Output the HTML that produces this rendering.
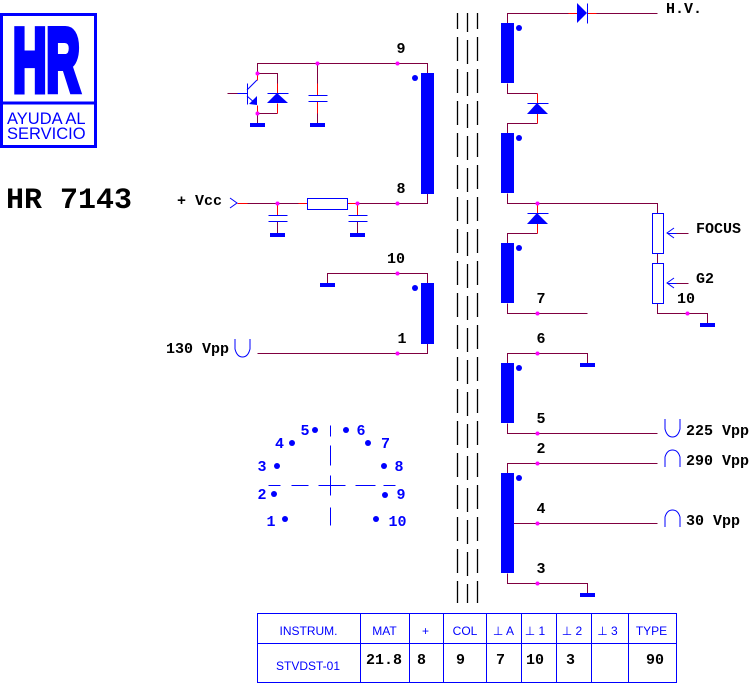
<!DOCTYPE html>
<html><head><meta charset="utf-8"><style>
html,body{margin:0;padding:0;background:#fff;}
svg{display:block;}
.m{font-family:"Liberation Mono",monospace;font-weight:bold;font-size:15px;fill:#000;}
.b{font-family:"Liberation Mono",monospace;font-weight:bold;font-size:15px;fill:#0000ff;}
.s{font-family:"Liberation Sans",Arial,sans-serif;font-size:12px;fill:#0000ff;}
</style></head><body>
<svg width="752" height="684" viewBox="0 0 752 684" xmlns="http://www.w3.org/2000/svg">
<rect width="752" height="684" fill="#fff"/>
<!-- Logo -->
<rect x="1.5" y="14.5" width="94" height="132" fill="none" stroke="#0000ff" stroke-width="3"/>
<line x1="0" y1="103" x2="97" y2="103" stroke="#0000ff" stroke-width="3"/>
<text transform="translate(13,91) scale(0.52,1)" x="0" y="0" font-family="Liberation Sans, Arial, sans-serif" font-weight="bold" font-size="89" fill="#0000ff" stroke="#0000ff" stroke-width="7">HR</text>
<text x="7" y="124" font-family="Liberation Sans, Arial, sans-serif" font-size="16.5" fill="#0000ff">AYUDA AL</text>
<text x="7" y="139" font-family="Liberation Sans, Arial, sans-serif" font-size="16.5" fill="#0000ff">SERVICIO</text>
<text x="6" y="208" font-family="Liberation Mono, monospace" font-weight="bold" font-size="30" fill="#000">HR 7143</text>

<!-- core lines -->
<g stroke="#000" stroke-width="1.3">
<line x1="457.5" y1="13" x2="457.5" y2="603" stroke-dasharray="24 8" stroke-dashoffset="8"/>
<line x1="467.5" y1="13" x2="467.5" y2="603" stroke-dasharray="24 8" stroke-dashoffset="5"/>
<line x1="477.5" y1="13" x2="477.5" y2="603" stroke-dasharray="24 8" stroke-dashoffset="8"/>
</g>

<g shape-rendering="crispEdges" transform="translate(0.5,0.5)">
<!-- maroon wires -->
<g stroke="#800040" stroke-width="1" fill="none">
<polyline points="257,73 257,63 427,63 427,74"/>
<polyline points="257,73 277,73 277,83"/>
<polyline points="257,113 277,113"/>
<line x1="257" y1="113" x2="257" y2="123"/>
<line x1="317" y1="63" x2="317" y2="83"/>
<line x1="317" y1="113" x2="317" y2="123"/>
<line x1="227" y1="93" x2="237" y2="93"/>
<line x1="247" y1="203" x2="298" y2="203"/>
<polyline points="357,203 427,203 427,193"/>
<line x1="277" y1="221" x2="277" y2="233"/>
<line x1="357" y1="221" x2="357" y2="233"/>
<polyline points="327,283 327,273 427,273 427,284"/>
<polyline points="257,353 427,353 427,343"/>
<polyline points="507,23 507,13 568,13"/>
<line x1="596" y1="13" x2="657" y2="13"/>
<polyline points="507,83 507,93 537,93"/>
<polyline points="537,123 507,123 507,133"/>
<polyline points="507,193 507,203 657,203 657,213"/>
<polyline points="537,233 507,233 507,243"/>
<polyline points="507,303 507,313 587,313"/>
<line x1="657" y1="253" x2="657" y2="263"/>
<polyline points="657,303 657,313 707,313 707,323"/>
<line x1="675" y1="233" x2="688" y2="233"/>
<line x1="675" y1="283" x2="688" y2="283"/>
<polyline points="507,363 507,353 587,353 587,363"/>
<polyline points="507,423 507,433 657,433"/>
<polyline points="507,473 507,463 657,463"/>
<line x1="507" y1="523" x2="657" y2="523"/>
<polyline points="507,573 507,583 587,583 587,593"/>
</g>
<!-- red segments -->
<g stroke="#ff0000" stroke-width="1">
<line x1="257" y1="73" x2="257" y2="80"/>
<line x1="257" y1="105" x2="257" y2="113"/>
<line x1="277" y1="83" x2="277" y2="93"/>
<line x1="277" y1="103" x2="277" y2="113"/>
<line x1="317" y1="83" x2="317" y2="95"/>
<line x1="317" y1="101" x2="317" y2="113"/>
<line x1="237" y1="203" x2="247" y2="203"/>
<line x1="298" y1="203" x2="307" y2="203"/>
<line x1="347" y1="203" x2="357" y2="203"/>
<line x1="277" y1="203" x2="277" y2="215"/>
<line x1="357" y1="203" x2="357" y2="215"/>
<line x1="568" y1="13" x2="577" y2="13"/>
<line x1="587" y1="13" x2="596" y2="13"/>
<line x1="537" y1="93" x2="537" y2="103"/>
<line x1="537" y1="113" x2="537" y2="123"/>
<line x1="537" y1="203" x2="537" y2="213"/>
<line x1="537" y1="223" x2="537" y2="233"/>
</g>
<!-- blue thin parts -->
<g stroke="#0000ff" stroke-width="1" fill="none">
<line x1="237" y1="93" x2="247" y2="93"/>
<line x1="247" y1="83" x2="247" y2="104"/>
<line x1="267" y1="93" x2="288" y2="93"/>
<line x1="308" y1="95" x2="327" y2="95"/>
<line x1="308" y1="101" x2="327" y2="101"/>
<line x1="268" y1="215" x2="287" y2="215"/>
<line x1="268" y1="221" x2="287" y2="221"/>
<line x1="348" y1="215" x2="367" y2="215"/>
<line x1="348" y1="221" x2="367" y2="221"/>
<rect x="307" y="198" width="40" height="11"/>
<line x1="587" y1="3" x2="587" y2="23"/>
<line x1="527" y1="103" x2="548" y2="103"/>
<line x1="527" y1="213" x2="548" y2="213"/>
<rect x="652" y="213" width="11" height="40"/>
<rect x="652" y="263" width="11" height="40"/>
<line x1="667" y1="233" x2="676" y2="233"/>
<line x1="667" y1="283" x2="676" y2="283"/>
<line x1="330" y1="425" x2="330" y2="436"/>
<line x1="330" y1="445" x2="330" y2="465"/>
<line x1="330" y1="475" x2="330" y2="495"/>
<line x1="330" y1="507" x2="330" y2="525"/>
<line x1="268" y1="485" x2="280" y2="485"/>
<line x1="291" y1="485" x2="308" y2="485"/>
<line x1="318" y1="485" x2="345" y2="485"/>
<line x1="355" y1="485" x2="375" y2="485"/>
<line x1="383" y1="485" x2="395" y2="485"/>
</g>
</g>
<!-- blue non-crisp -->
<g stroke="#0000ff" stroke-width="1" fill="none">
<line x1="247" y1="90" x2="257" y2="80"/>
<line x1="247" y1="96" x2="256" y2="104"/>
<polyline points="230,198 237,203 230,208"/>
<polyline points="674,228 667,233 674,238"/>
<polyline points="674,278 667,283 674,288"/>
<path d="M235,339 L235,349 Q237,357 242.5,357 Q248,357 250,349 L250,339"/>
<path d="M665,419 L665,429 Q667,437 672.5,437 Q678,437 680,429 L680,419"/>
<path d="M665,467 L665,457 Q667,450 672.5,450 Q678,450 680,457 L680,467"/>
<path d="M665,527 L665,517 Q667,510 672.5,510 Q678,510 680,517 L680,527"/>
</g>
<!-- filled blue -->
<g fill="#0000ff">
<polygon points="257,96 257,105 249,104"/>
<polygon points="277,93 267,103 288,103"/>
<polygon points="577,3 577,23 587,13"/>
<polygon points="537,103 527,114 548,114"/>
<polygon points="537,213 527,224 548,224"/>
<rect x="421" y="73" width="13" height="121"/>
<rect x="421" y="283" width="13" height="61"/>
<rect x="501" y="23" width="13" height="60"/>
<rect x="501" y="133" width="13" height="60"/>
<rect x="501" y="243" width="13" height="60"/>
<rect x="501" y="363" width="13" height="60"/>
<rect x="501" y="473" width="13" height="100"/>
<circle cx="415" cy="78" r="3"/>
<circle cx="415" cy="288" r="3"/>
<circle cx="519" cy="28" r="3"/>
<circle cx="519" cy="138" r="3"/>
<circle cx="519" cy="248" r="3"/>
<circle cx="519" cy="368" r="3"/>
<circle cx="519" cy="478" r="3"/>
<rect x="250" y="123" width="15" height="4"/>
<rect x="310" y="123" width="15" height="4"/>
<rect x="270" y="233" width="15" height="4"/>
<rect x="350" y="233" width="15" height="4"/>
<rect x="320" y="283" width="15" height="4"/>
<rect x="700" y="323" width="15" height="4"/>
<rect x="580" y="363" width="15" height="4"/>
<rect x="580" y="593" width="15" height="4"/>
<circle cx="315" cy="430" r="3"/>
<circle cx="346" cy="430" r="3"/>
<circle cx="292" cy="443" r="3"/>
<circle cx="368" cy="443" r="3"/>
<circle cx="277" cy="466" r="3"/>
<circle cx="384" cy="466" r="3"/>
<circle cx="274" cy="494" r="3"/>
<circle cx="385" cy="495" r="3"/>
<circle cx="285" cy="519" r="3"/>
<circle cx="376" cy="519" r="3"/>
</g>
<!-- magenta junction dots -->
<g fill="#ff00ff">
<circle cx="257.5" cy="73.5" r="2"/>
<circle cx="257.5" cy="113.5" r="2"/>
<circle cx="317.5" cy="63.5" r="2"/>
<circle cx="397.5" cy="63.5" r="2"/>
<circle cx="277.5" cy="203.5" r="2"/>
<circle cx="357.5" cy="203.5" r="2"/>
<circle cx="397.5" cy="203.5" r="2"/>
<circle cx="397.5" cy="273.5" r="2"/>
<circle cx="397.5" cy="353.5" r="2"/>
<circle cx="537.5" cy="203.5" r="2"/>
<circle cx="537.5" cy="313.5" r="2"/>
<circle cx="687.5" cy="313.5" r="2"/>
<circle cx="537.5" cy="353.5" r="2"/>
<circle cx="537.5" cy="433.5" r="2"/>
<circle cx="537.5" cy="463.5" r="2"/>
<circle cx="537.5" cy="523.5" r="2"/>
<circle cx="537.5" cy="583.5" r="2"/>
</g>

<!-- labels -->
<text class="m" x="401" y="53" text-anchor="middle">9</text>
<text class="m" x="401" y="193" text-anchor="middle">8</text>
<text class="m" x="396" y="263" text-anchor="middle">10</text>
<text class="m" x="402" y="343" text-anchor="middle">1</text>
<text class="m" x="177" y="205">+ Vcc</text>
<text class="m" x="166" y="353">130 Vpp</text>
<text class="m" x="666" y="13">H.V.</text>
<text class="m" x="541" y="303" text-anchor="middle">7</text>
<text class="m" x="696" y="233">FOCUS</text>
<text class="m" x="696" y="283">G2</text>
<text class="m" x="686" y="303" text-anchor="middle">10</text>
<text class="m" x="541" y="343" text-anchor="middle">6</text>
<text class="m" x="541" y="423" text-anchor="middle">5</text>
<text class="m" x="541" y="453" text-anchor="middle">2</text>
<text class="m" x="541" y="513" text-anchor="middle">4</text>
<text class="m" x="541" y="573" text-anchor="middle">3</text>
<text class="m" x="686" y="435">225 Vpp</text>
<text class="m" x="686" y="465">290 Vpp</text>
<text class="m" x="686" y="525">30 Vpp</text>

<!-- pinout labels -->
<text class="b" x="305" y="435" text-anchor="middle">5</text>
<text class="b" x="361" y="435" text-anchor="middle">6</text>
<text class="b" x="279.5" y="448" text-anchor="middle">4</text>
<text class="b" x="385.5" y="448" text-anchor="middle">7</text>
<text class="b" x="262" y="471" text-anchor="middle">3</text>
<text class="b" x="399" y="471" text-anchor="middle">8</text>
<text class="b" x="262" y="499" text-anchor="middle">2</text>
<text class="b" x="401" y="499" text-anchor="middle">9</text>
<text class="b" x="271" y="526" text-anchor="middle">1</text>
<text class="b" x="397.5" y="526" text-anchor="middle">10</text>

<!-- table -->
<g stroke="#0000ff" stroke-width="1" fill="none" shape-rendering="crispEdges">
<rect x="257.5" y="613.5" width="419" height="69"/>
<line x1="257" y1="643.5" x2="676" y2="643.5"/>
<line x1="360.5" y1="613" x2="360.5" y2="683"/>
<line x1="409.5" y1="613" x2="409.5" y2="683"/>
<line x1="443.5" y1="613" x2="443.5" y2="683"/>
<line x1="486.5" y1="613" x2="486.5" y2="683"/>
<line x1="521.5" y1="613" x2="521.5" y2="683"/>
<line x1="556.5" y1="613" x2="556.5" y2="683"/>
<line x1="591.5" y1="613" x2="591.5" y2="683"/>
<line x1="628.5" y1="613" x2="628.5" y2="683"/>
</g>
<text class="s" x="308.5" y="635" text-anchor="middle">INSTRUM.</text>
<text class="s" x="384.5" y="635" text-anchor="middle">MAT</text>
<text class="s" x="425.5" y="635" text-anchor="middle">+</text>
<text class="s" x="465" y="635" text-anchor="middle">COL</text>
<text class="s" x="503.5" y="635" text-anchor="middle">⊥ A</text>
<text class="s" x="535" y="635" text-anchor="middle">⊥ 1</text>
<text class="s" x="572" y="635" text-anchor="middle">⊥ 2</text>
<text class="s" x="607.5" y="635" text-anchor="middle">⊥ 3</text>
<text class="s" x="651.5" y="635" text-anchor="middle">TYPE</text>
<text class="s" x="308" y="670" text-anchor="middle">STVDST-01</text>
<text class="m" x="366" y="664">21.8</text>
<text class="m" x="417" y="664">8</text>
<text class="m" x="456" y="664">9</text>
<text class="m" x="496" y="664">7</text>
<text class="m" x="526" y="664">10</text>
<text class="m" x="566" y="664">3</text>
<text class="m" x="646" y="664">90</text>
</svg>
</body></html>
